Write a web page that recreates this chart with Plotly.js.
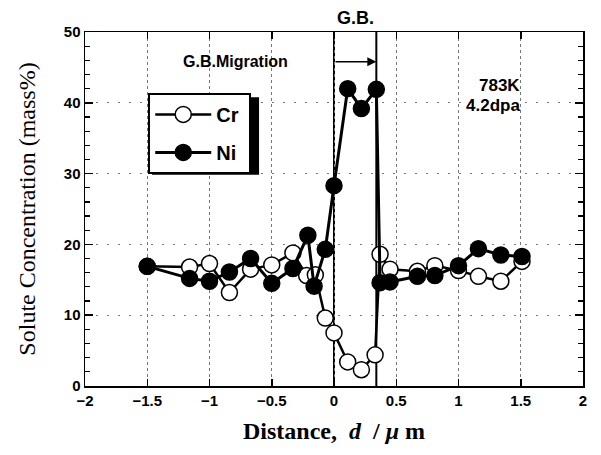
<!DOCTYPE html>
<html>
<head>
<meta charset="utf-8">
<script src="https://cdn.plot.ly/plotly-3.0.1.min.js"></script>
<style>html,body{margin:0;padding:0;background:#fff;}#chart{width:601px;height:455px;}</style>
</head>
<body>
<div id="chart"></div>
<script>
// Data
const xCr = [-1.5, -1.16, -1.0, -0.84, -0.67, -0.5, -0.33, -0.22, -0.15, -0.07, 0.0, 0.11, 0.22, 0.33, 0.37, 0.45, 0.67, 0.81, 1.0, 1.16, 1.34, 1.51];
const yCr = [16.9, 16.8, 17.3, 13.2, 16.5, 17.1, 18.8, 15.6, 15.7, 9.6, 7.5, 3.4, 2.3, 4.4, 18.6, 16.5, 16.2, 17.0, 16.3, 15.5, 14.8, 17.6];
const xNi = [-1.5, -1.16, -1.0, -0.84, -0.67, -0.5, -0.33, -0.21, -0.16, -0.07, 0.0, 0.11, 0.22, 0.34, 0.37, 0.45, 0.67, 0.81, 1.0, 1.16, 1.34, 1.51];
const yNi = [16.9, 15.2, 14.8, 16.1, 18.0, 14.5, 16.6, 21.3, 14.1, 19.3, 28.3, 42.0, 39.2, 41.9, 14.6, 14.7, 15.5, 15.6, 17.0, 19.4, 18.5, 18.3];
const seriesNames = ['Cr', 'Ni'];
const gbPositions = [0, 0.34];      // grain boundary before / after migration
const migrationLevel = 45.8;        // height of migration arrow
const conditionLabels = ['783K', '4.2dpa'];

const sans = 'Liberation Sans, Arial, Helvetica, sans-serif';
const serif = 'Liberation Serif, Times New Roman, serif';
const pad = '\u00a0';

const traces = [
  {x: xCr, y: yCr, name: seriesNames[0] + pad, type: 'scatter', mode: 'lines+markers',
   line: {color: '#000', width: 2.5},
   marker: {symbol: 'circle', size: 16, color: '#fff', line: {color: '#000', width: 1.5}},
   legendgroup: 'a'},
  {x: xNi, y: yNi, name: seriesNames[1] + pad, type: 'scatter', mode: 'lines+markers',
   line: {color: '#000', width: 3},
   marker: {symbol: 'circle', size: 16, color: '#000', line: {color: '#000', width: 1.5}},
   legendgroup: 'b'}
];

const shapes = gbPositions.map(g => ({
  type: 'line', xref: 'x', yref: 'paper', x0: g, x1: g, y0: 0, y1: 1,
  line: {color: '#000', width: 2}, layer: 'below'
}));
// legend drop shadow (sits under the legend box, offset right/down)
shapes.push({type: 'rect', xref: 'paper', yref: 'paper',
  x0: 0.1345, x1: 0.3495, y0: 0.597, y1: 0.816,
  fillcolor: '#000', line: {width: 0}, layer: 'above'});

const annotations = [
  {text: 'G.B.', xref: 'x', yref: 'paper', x: 0.17, y: 1.005, yanchor: 'bottom', showarrow: false,
   font: {family: sans, size: 18, weight: 'bold', color: '#000'}},
  {text: 'G.B.Migration', xref: 'x', yref: 'y', x: -0.79, y: migrationLevel, showarrow: false,
   font: {family: sans, size: 16, weight: 'bold', color: '#000'}},
  {text: '', xref: 'x', yref: 'y', axref: 'x', ayref: 'y',
   x: gbPositions[1], y: migrationLevel, ax: gbPositions[0], ay: migrationLevel,
   showarrow: true, arrowhead: 2, arrowsize: 1.2, arrowwidth: 1.5, arrowcolor: '#000', standoff: 0, startstandoff: 0},
  {text: conditionLabels[0], xref: 'x', yref: 'y', x: 1.51, y: 42.5, xanchor: 'right', showarrow: false,
   font: {family: sans, size: 17, weight: 'bold', color: '#000'}},
  {text: conditionLabels[1], xref: 'x', yref: 'y', x: 1.51, y: 39.6, xanchor: 'right', showarrow: false,
   font: {family: sans, size: 17, weight: 'bold', color: '#000'}}
];

const layout = {
  width: 601, height: 455,
  margin: {l: 85, r: 18, t: 32, b: 69},
  paper_bgcolor: '#fff', plot_bgcolor: '#fff',
  showlegend: true,
  legend: {x: 0.127, y: 0.828, xanchor: 'left', yanchor: 'top',
    bgcolor: '#fff', bordercolor: '#000', borderwidth: 2,
    traceorder: 'grouped', tracegroupgap: 9, itemwidth: 56,
    font: {family: sans, size: 20, weight: 'bold', color: '#000'}},
  xaxis: {
    range: [-2, 2], dtick: 0.5, tick0: 0,
    ticks: 'inside', ticklen: 7, tickwidth: 1.5, tickcolor: '#000',
    showline: true, linecolor: '#000', linewidth: 1.5, mirror: 'ticks',
    showgrid: true, gridcolor: '#777', gridwidth: 1, griddash: 'dot',
    zeroline: false,
    tickfont: {family: sans, size: 15, weight: 'bold', color: '#000'},
    title: {text: 'Distance,  <i>d</i>  / <i>μ</i> m', standoff: 14,
      font: {family: serif, size: 24, weight: 'bold', color: '#000'}}
  },
  yaxis: {
    range: [0, 50], dtick: 10,
    ticks: 'inside', ticklen: 8, tickwidth: 1.5, tickcolor: '#000',
    minor: {dtick: 2, ticks: 'inside', ticklen: 5, tickwidth: 1.2, tickcolor: '#000', showgrid: false},
    showline: true, linecolor: '#000', linewidth: 1.5, mirror: 'ticks',
    showgrid: true, gridcolor: '#777', gridwidth: 1, griddash: '2px,9px',
    zeroline: false,
    tickfont: {family: sans, size: 15, weight: 'bold', color: '#000'},
    title: {text: 'Solute Concentration (mass%)', standoff: 21,
      font: {family: serif, size: 24, color: '#000'}}
  },
  shapes: shapes,
  annotations: annotations
};

Plotly.newPlot('chart', traces, layout, {displayModeBar: false, staticPlot: true});
</script>
</body>
</html>
